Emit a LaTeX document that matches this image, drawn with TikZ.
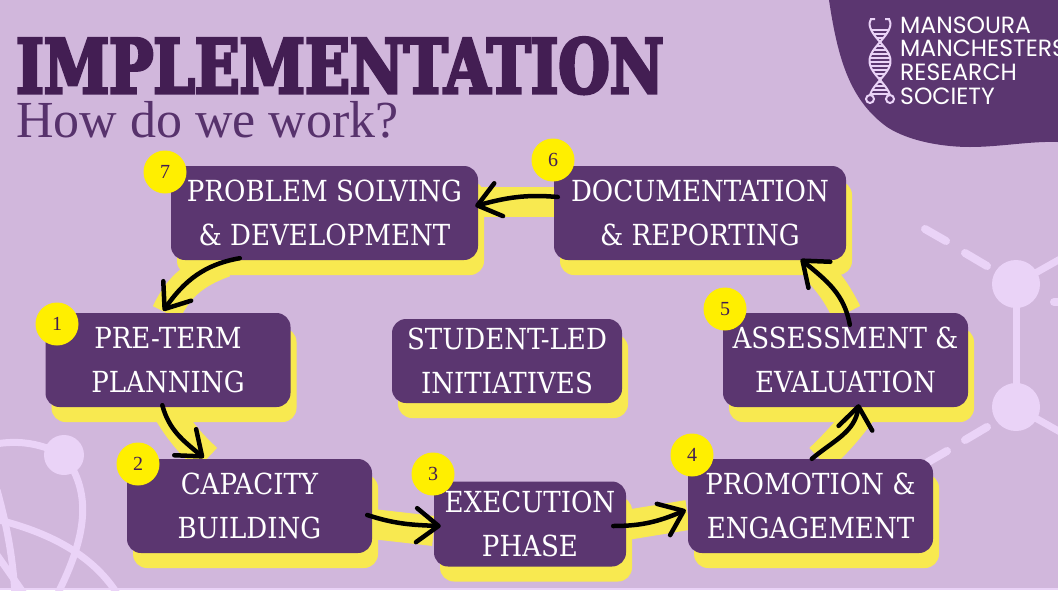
\documentclass[tikz,border=0pt]{standalone}
\usepackage{fontspec}
\usepackage{tikz}
\usetikzlibrary{arrows.meta,backgrounds,shadows}
\setmainfont{Liberation Serif}
\newfontfamily\stagefont{DejaVu Serif Condensed}
\newfontfamily\titlefont[FakeBold=4,FakeStretch=0.786]{DejaVu Serif Bold}
\newfontfamily\logofont{Poppins}
\definecolor{lilacbg}{HTML}{D1B7DC}
\definecolor{lilacpale}{HTML}{EAD3F7}
\definecolor{plumbox}{HTML}{5B3670}
\definecolor{plumdark}{HTML}{431E53}
\definecolor{bandyellow}{HTML}{F8E950}
\definecolor{badgeyellow}{HTML}{FFEF00}

\begin{document}
\begin{tikzpicture}[x=1pt, y=-1pt,
    stagebox/.style={fill=plumbox, rounded corners=14pt, text=white, inner sep=0pt, align=center,
        font=\stagefont\fontsize{29}{44}\selectfont,
        general shadow={shadow xshift=6pt, shadow yshift=-15pt, fill=bandyellow}},
    badge/.style={circle, fill=badgeyellow, minimum size=43pt, inner sep=0pt, text=plumdark, font=\fontsize{20}{20}\selectfont},
    band/.style={draw=bandyellow, line width=30pt},
    arrowline/.style={draw=black, line width=4.5pt, line cap=round, -{Straight Barb[length=22pt,width=34pt,round]}},
    deco/.style={draw=lilacpale, line width=7pt},
    dashbit/.style={draw=lilacpale, line width=8pt, line cap=round},
    logoline/.style={anchor=base west, inner sep=0pt, text=white, font=\logofont\fontsize{23.5}{23.5}\selectfont}]
    \useasboundingbox (0,0) rectangle (1058,590);
    \clip (0,0) rectangle (1058,590);

    % stages
    \node[stagebox, minimum width=245pt, minimum height=94pt] (preterm) at (168,360) {PRE-TERM\\PLANNING};
    \node[stagebox, minimum width=245pt, minimum height=94pt] (capacity) at (249.5,506) {CAPACITY\\BUILDING};
    \node[stagebox, minimum width=192pt, minimum height=85pt] (execution) at (530,524) {EXECUTION\\PHASE};
    \node[stagebox, minimum width=245pt, minimum height=94pt] (promotion) at (810.5,506) {PROMOTION \&\\ENGAGEMENT};
    \node[stagebox, minimum width=245pt, minimum height=94pt] (assessment) at (845.5,360) {ASSESSMENT \&\\EVALUATION};
    \node[stagebox, minimum width=292pt, minimum height=94pt] (documentation) at (700,213) {DOCUMENTATION\\\& REPORTING};
    \node[stagebox, minimum width=307pt, minimum height=94pt] (solving) at (324.5,213) {PROBLEM SOLVING\\\& DEVELOPMENT};
    \node[stagebox, minimum width=230pt, minimum height=84pt] (studentled) at (507,361) {STUDENT-LED\\INITIATIVES};

    % number badges
    \node[badge] (badgeone) at (57,324) {1};
    \node[badge] (badgetwo) at (138,464) {2};
    \node[badge] (badgethree) at (433,474) {3};
    \node[badge] (badgefour) at (692,455) {4};
    \node[badge] (badgefive) at (725,309) {5};
    \node[badge] (badgesix) at (553,160) {6};
    \node[badge] (badgeseven) at (165,172) {7};

    % black arrows
    \draw[arrowline] ([xshift=69pt,yshift=2pt]solving.south west) to[out=190,in=55] ([xshift=118pt,yshift=2pt]preterm.north west);
    \draw[arrowline] ([xshift=117pt,yshift=2pt]preterm.south west) to[out=-75,in=140] ([xshift=77pt,yshift=1pt]capacity.north west);
    \draw[arrowline] ([xshift=-5pt,yshift=-9pt]capacity.east) to[out=-18,in=178] ([xshift=7pt,yshift=-2pt]execution.west);
    \draw[arrowline] ([xshift=-13pt,yshift=-2pt]execution.east) to[out=0,in=203] ([xshift=-2pt,yshift=-4pt]promotion.west);
    \draw[arrowline] ([xshift=124pt]promotion.north west) to[out=40,in=-98] ([xshift=136pt,yshift=3pt]assessment.south west);
    \draw[arrowline] ([xshift=127pt,yshift=-12pt]assessment.north west) to[out=100,in=-40] ([xshift=247pt,yshift=1pt]documentation.south west);
    \draw[arrowline] ([xshift=4pt,yshift=16pt]documentation.west) to[out=175,in=15] ([xshift=-3pt,yshift=7pt]solving.east);

    % heading
    \node[anchor=base west, inner sep=0pt, text=plumdark, font=\titlefont\fontsize{75}{75}\selectfont] (heading) at (16,93) {IMPLEMENTATION};
    \node[anchor=base west, inner sep=0pt, text=plumbox!85!plumdark, font=\fontsize{52}{52}\selectfont] (subheading) at (16,137) {How do we work?};

    % logo text
    \node[logoline] (logoa) at (900,33) {MANSOURA};
    \node[logoline] (logob) at (900,56) {MANCHESTERS};
    \node[logoline] (logoc) at (900,80) {RESEARCH};
    \node[logoline] (logod) at (900,104) {SOCIETY};

    % dna mark
    \draw[lilacpale, line width=2pt] plot[smooth, samples=40, domain=23:95] ({880+10.5*cos((\x-61)*4.737)},\x);
    \draw[lilacpale, line width=2pt] plot[smooth, samples=40, domain=23:95] ({880-10.5*cos((\x-61)*4.737)},\x);
    \foreach \ry in {30,34,...,94} {
        \pgfmathsetmacro{\halfw}{10.5*abs(cos((\ry-61)*4.737))}
        \draw[lilacpale, line width=1.4pt] ({880-\halfw},\ry) -- ({880+\halfw},\ry);
    }
    \draw[lilacpale, line width=2pt] (869.5,23) -- (871,19) -- (875,19);
    \draw[lilacpale, line width=2pt] (890.5,23) -- (889,19) -- (885,19);
    \draw[lilacpale, line width=2pt] (870,99) circle (4);
    \draw[lilacpale, line width=2pt] (890,99) circle (4);

    \begin{scope}[on background layer]
        \fill[lilacbg] (0,0) rectangle (1058,590);
        \fill[lilacpale] (0,588) rectangle (1058,590);
        % blob behind the logo
        \fill[plumbox] (829,0) .. controls (838,60) and (850,100) .. (887,127)
            .. controls (910,142) and (945,147) .. (970,147) .. controls (1000,147) and (1030,141) .. (1058,142)
            -- (1058,0) -- cycle;
        % molecule on the right
        \draw[deco] (1016,284) -- (1016,407);
        \draw[deco] (1016,284) -- (1062,258);
        \draw[deco] (1016,407) -- (1062,433);
        \draw[dashbit] (1054,302) -- (1062,302);
        \fill[lilacpale] (1016,284) circle (24);
        \fill[lilacpale] (1016,407) circle (24);
        \draw[dashbit] (925,229) -- (946,241);
        \draw[dashbit] (965,253) -- (987,266);
        \draw[dashbit] (965,440) -- (987,427);
        \draw[dashbit] (928,462) -- (947,451);
        % atom at the bottom left
        \draw[deco] (-5,444) .. controls (15,441) and (35,441) .. (64,455);
        \draw[deco] (64,455) .. controls (90,490) and (90,530) .. (57,595);
        \draw[deco] (-5,519) .. controls (40,530) and (90,550) .. (118,595);
        \draw[deco] (-3,490) .. controls (8,530) and (13,560) .. (15,595);
        \draw[deco] (-3,555) -- (25,595);
        \fill[lilacpale] (64,455) circle (20);
        % yellow ring
        \draw[band] ([xshift=121pt]preterm.north west) to[out=65,in=200] ([xshift=54pt,yshift=-2pt]solving.south west);
        \draw[band] ([xshift=120pt]preterm.south west) to[bend right=8] ([xshift=80pt]capacity.north west);
        \draw[band] ([yshift=-18pt]capacity.east) -- ([yshift=-7pt]execution.west);
        \draw[band] ([yshift=-1pt]execution.east) -- ([yshift=-9pt]promotion.west);
        \draw[band] ([xshift=132pt]promotion.north west) to[bend right=5] ([xshift=142pt]assessment.south west);
        \draw[band] ([xshift=124pt]assessment.north west) to[bend right=8] ([xshift=262pt,yshift=-8pt]documentation.south west);
        \draw[band] (documentation.west |- 0,202) -- (solving.east |- 0,202);
    \end{scope}
\end{tikzpicture}
\end{document}
